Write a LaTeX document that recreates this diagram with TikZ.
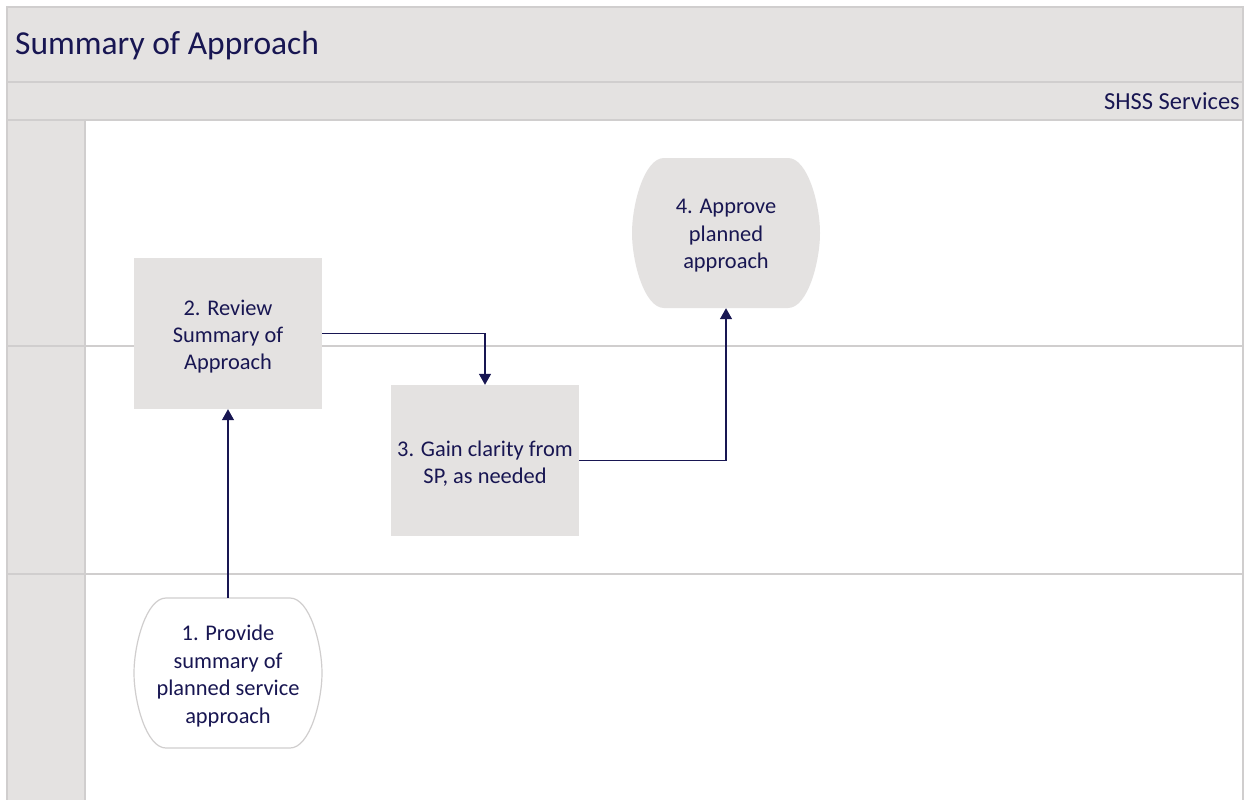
\documentclass[tikz,border=0pt]{standalone}
\usepackage{fontspec}
\setmainfont{Carlito}
\usetikzlibrary{arrows.meta,calc}
\definecolor{ink}{RGB}{24,22,82}
\definecolor{panel}{RGB}{228,226,225}
\definecolor{rule}{RGB}{208,206,206}
\pgfdeclarelayer{lanes}
\pgfdeclarelayer{shapes}
\pgfsetlayers{lanes,shapes,main}
% barrel outline around a 188 x 150 terminal node, centred on the node
\newcommand\barrelpath{(-62,-75) -- (62,-75)
  .. controls (81.8,-75) and (94,-28.5) .. (94,0)
  .. controls (94,28.5) and (81.8,75) .. (62,75) -- (-62,75)
  .. controls (-81.8,75) and (-94,28.5) .. (-94,0)
  .. controls (-94,-28.5) and (-81.8,-75) .. (-62,-75) -- cycle}
\begin{document}
\begin{tikzpicture}[x=1pt,y=-1pt,
  steptext/.style={text=ink,align=center,inner sep=0pt,yshift=-3pt,
    font=\fontsize{22.4}{27.4}\selectfont},
  stepbox/.style={fill=panel,minimum width=188pt,minimum height=151pt,inner sep=0pt},
  term/.style={minimum width=188pt,minimum height=150pt,inner sep=0pt},
  flow/.style={draw=ink,line width=1.3pt,-{Triangle[width=12pt,length=11pt]}},
  laneline/.style={draw=rule,line width=1.6pt}]
\useasboundingbox (0,0) rectangle (1247,800);

% swimlane frame
\begin{pgfonlayer}{lanes}
  \fill[white] (0,0) rectangle (1247,800);
  \fill[panel] (7,7) rectangle (1243,120);
  \fill[panel] (7,120) rectangle (85,800);
  \draw[laneline] (7,800) -- (7,7) -- (1243,7) -- (1243,800);
  \draw[laneline] (7,82) -- (1243,82);
  \draw[laneline] (7,120) -- (1243,120);
  \draw[laneline] (85,120) -- (85,800);
  \draw[laneline] (7,346) -- (1243,346);
  \draw[laneline] (7,574) -- (1243,574);
\end{pgfonlayer}

\node[anchor=west,text=ink,font=\fontsize{33.5}{40}\selectfont,inner sep=0pt] (title) at (15,46) {Summary of Approach};
\node[anchor=east,text=ink,font=\fontsize{24.5}{30}\selectfont,inner sep=0pt] (lane) at (1240,101) {SHSS Services};

% process steps (box geometry, with the wording set as a centred label)
\node[term,label={[steptext]center:{1. Provide\\summary of\\planned service\\approach}}] (s1) at (228,673) {};
\node[stepbox,label={[steptext]center:{2. Review\\Summary of\\Approach}}] (s2) at (228,333.5) {};
\node[stepbox,label={[steptext]center:{3. Gain clarity from\\SP, as needed}}] (s3) at (485,460.5) {};
\node[term,label={[steptext]center:{4. Approve\\planned\\approach}}] (s4) at (726,233) {};

\begin{pgfonlayer}{shapes}
  \draw[rule,fill=white,line width=1.2pt,shift={(s1.center)}] \barrelpath;
  \fill[panel,shift={(s4.center)}] \barrelpath;
\end{pgfonlayer}

% connectors
\draw[flow] (s1.north) -- (s2.south);
\draw[flow] (s2.east) -| (s3.north);
\draw[flow] (s3.east) -| (s4.south);
\end{tikzpicture}
\end{document}
